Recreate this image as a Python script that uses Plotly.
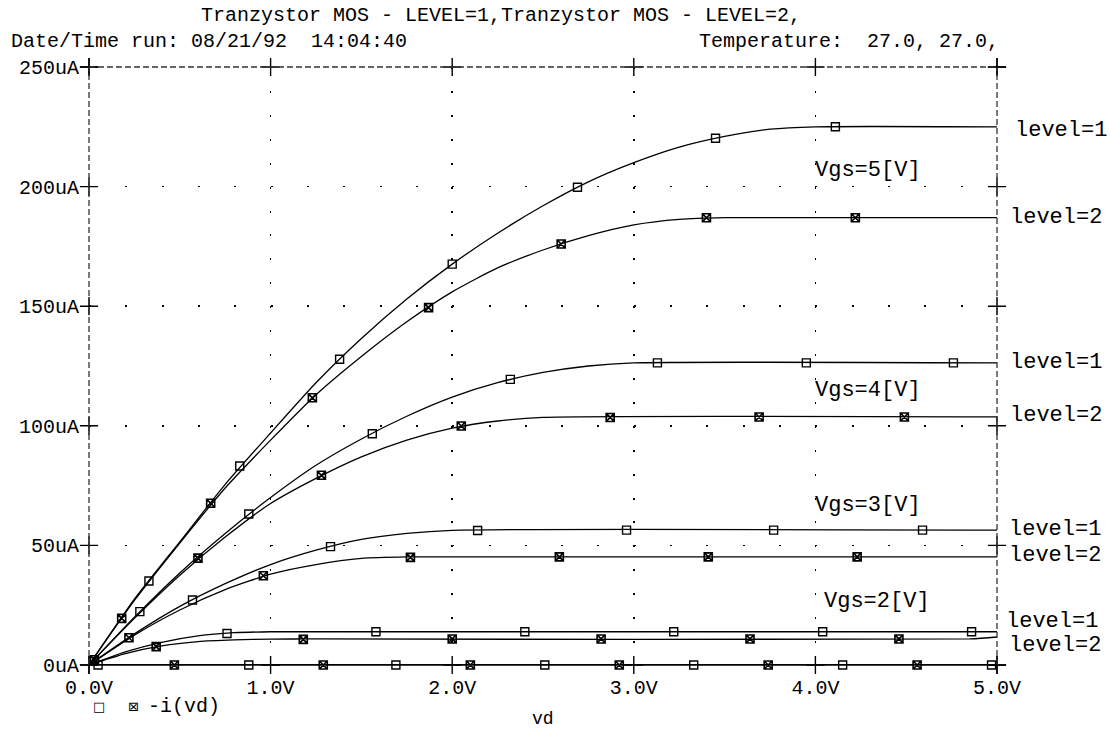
import plotly.graph_objects as go

# ---------------- data ----------------
# drain voltage vd [V], drain current -i(vd) [uA]
vd_l1_5 = [0, 0.25, 0.5, 0.75, 1.0, 1.25, 1.5, 1.75, 2.0, 2.25, 2.5, 2.75, 3.0, 3.25, 3.5, 3.75, 4.0, 5.0]
id_l1_5 = [0, 27.5, 51.5, 75.5, 97, 118, 136.5, 153, 167.6, 180.5, 192, 202, 210, 216.5, 221, 224, 225, 225]
vd_l2_5 = [0, 0.25, 0.5, 0.75, 1.0, 1.25, 1.5, 1.75, 2.0, 2.25, 2.5, 2.75, 3.0, 3.25, 3.5, 5.0]
id_l2_5 = [0, 27, 51, 74, 94, 113, 129, 143.5, 156, 166, 173.5, 179.5, 184, 186.3, 187, 187]

vd_l1_4 = [0, 0.25, 0.5, 0.75, 1.0, 1.25, 1.5, 1.75, 2.0, 2.25, 2.5, 2.75, 3.0, 5.0]
id_l1_4 = [0, 20, 38.5, 55, 70, 83.5, 94.5, 104, 112, 118, 122.3, 125, 126.3, 126.3]
vd_l2_4 = [0, 0.25, 0.5, 0.75, 1.0, 1.25, 1.5, 1.75, 2.0, 2.25, 2.5, 5.0]
id_l2_4 = [0, 19.5, 37.5, 53.5, 67.5, 78, 87, 94, 99, 102, 103.5, 103.7]

vd_l1_3 = [0, 0.25, 0.5, 0.75, 1.0, 1.25, 1.5, 1.75, 2.0, 5.0]
id_l1_3 = [0, 13, 24.5, 34, 42, 48, 52.5, 55, 56.3, 56.4]
vd_l2_3 = [0, 0.25, 0.5, 0.75, 1.0, 1.25, 1.5, 1.75, 5.0]
id_l2_3 = [0, 12.5, 23, 31.5, 38, 42, 44.6, 45.2, 45.2]

vd_l1_2 = [0, 0.2, 0.4, 0.6, 0.8, 1.0, 5.0]
id_l1_2 = [0, 5.5, 9.5, 12.2, 13.5, 13.9, 13.9]
vd_l2_2 = [0, 0.2, 0.4, 0.6, 0.8, 1.0, 1.2, 4.85, 5.0]
id_l2_2 = [0, 4.8, 8.0, 9.8, 10.5, 10.8, 10.9, 10.9, 11.7]

vd_l1_1 = [0, 5.0]
id_l1_1 = [0, 0]
vd_l2_1 = [0, 5.0]
id_l2_1 = [0, 0]

# marker positions (level=1 open squares, level=2 crossed squares)
mk_vd_l1_5 = [0.33, 0.83, 1.38, 2.0, 2.69, 3.45, 4.11]
mk_id_l1_5 = [35.1, 83.2, 127.8, 167.6, 199.7, 220.2, 225]
mk_vd_l2_5 = [0.03, 0.18, 0.67, 1.23, 1.87, 2.6, 3.4, 4.22]
mk_id_l2_5 = [2.2, 19.5, 67.6, 111.7, 149.4, 176, 187, 187]

mk_vd_l1_4 = [0.28, 0.88, 1.56, 2.32, 3.13, 3.95, 4.76]
mk_id_l1_4 = [22.3, 63.1, 96.7, 119.4, 126.3, 126.3, 126.3]
mk_vd_l2_4 = [0.6, 1.28, 2.05, 2.87, 3.69, 4.49]
mk_id_l2_4 = [44.7, 79.3, 99.9, 103.5, 103.7, 103.7]

mk_vd_l1_3 = [0.57, 1.33, 2.14, 2.96, 3.77, 4.59]
mk_id_l1_3 = [27.2, 49.5, 56.2, 56.4, 56.4, 56.4]
mk_vd_l2_3 = [0.22, 0.96, 1.77, 2.59, 3.41, 4.23]
mk_id_l2_3 = [11.4, 37.3, 45.0, 45.2, 45.2, 45.2]

mk_vd_l1_2 = [0.76, 1.58, 2.4, 3.22, 4.04, 4.86]
mk_id_l1_2 = [13.2, 13.9, 13.9, 13.9, 13.9, 13.9]
mk_vd_l2_2 = [0.37, 1.18, 2.0, 2.82, 3.64, 4.46]
mk_id_l2_2 = [7.7, 10.7, 10.9, 10.9, 10.9, 10.9]

mk_vd_l1_1 = [0.05, 0.88, 1.69, 2.51, 3.33, 4.15, 4.97]
mk_id_l1_1 = [0, 0, 0, 0, 0, 0, 0]
mk_vd_l2_1 = [0.47, 1.29, 2.1, 2.92, 3.74, 4.56]
mk_id_l2_1 = [0, 0, 0, 0, 0, 0]

x_ticks = [0, 1, 2, 3, 4, 5]
x_ticktext = ["0.0V", "1.0V", "2.0V", "3.0V", "4.0V", "5.0V"]
y_ticks = [0, 50, 100, 150, 200, 250]
y_ticktext = ["0uA", "50uA", "100uA", "150uA", "200uA", "250uA"]

title_line1 = "Tranzystor MOS - LEVEL=1,Tranzystor MOS - LEVEL=2,"
title_date = "Date/Time run: 08/21/92  14:04:40"
title_temp = "Temperature:  27.0, 27.0,"
x_title = "vd"
legend_text = "-i(vd)"
vgs_labels = ["Vgs=5[V]", "Vgs=4[V]", "Vgs=3[V]", "Vgs=2[V]"]
level_labels = ["level=1", "level=2", "level=1", "level=2", "level=1", "level=2", "level=1", "level=2"]

# ---------------- layout geometry ----------------
W, H = 1111, 733
ML, MR, MT, MB = 89, 114, 67, 68
PW, PH = W - ML - MR, H - MT - MB


def px(x):
    return (x - ML) / PW


def py(y):
    return (H - MB - y) / PH


MONO = "Liberation Mono"
INK = "black"

fig = go.Figure()

curves = [
    (vd_l1_5, id_l1_5), (vd_l2_5, id_l2_5),
    (vd_l1_4, id_l1_4), (vd_l2_4, id_l2_4),
    (vd_l1_3, id_l1_3), (vd_l2_3, id_l2_3),
    (vd_l1_2, id_l1_2), (vd_l2_2, id_l2_2),
    (vd_l1_1, id_l1_1), (vd_l2_1, id_l2_1),
]
for xs, ys in curves:
    fig.add_trace(go.Scatter(x=xs, y=ys, mode="lines",
                             line=dict(color=INK, width=1.3, shape="spline", smoothing=0.6),
                             showlegend=False, hoverinfo="skip", cliponaxis=False))

open_sets = [(mk_vd_l1_5, mk_id_l1_5), (mk_vd_l1_4, mk_id_l1_4), (mk_vd_l1_3, mk_id_l1_3),
             (mk_vd_l1_2, mk_id_l1_2), (mk_vd_l1_1, mk_id_l1_1)]
cross_sets = [(mk_vd_l2_5, mk_id_l2_5), (mk_vd_l2_4, mk_id_l2_4), (mk_vd_l2_3, mk_id_l2_3),
              (mk_vd_l2_2, mk_id_l2_2), (mk_vd_l2_1, mk_id_l2_1)]
for xs, ys in open_sets:
    fig.add_trace(go.Scatter(x=xs, y=ys, mode="markers",
                             marker=dict(symbol="square-open", size=8, color=INK, line=dict(width=1.4)),
                             showlegend=False, hoverinfo="skip", cliponaxis=False))
for xs, ys in cross_sets:
    fig.add_trace(go.Scatter(x=xs, y=ys, mode="markers",
                             marker=dict(symbol="square-x-open", size=8, color=INK, line=dict(width=1.6)),
                             showlegend=False, hoverinfo="skip", cliponaxis=False))

# "+" tick marks on the frame
cx, cy = [], []
for xt in x_ticks:
    cx += [xt, xt]
    cy += [y_ticks[-1], y_ticks[0]]
for yt in y_ticks:
    cx += [x_ticks[0], x_ticks[-1]]
    cy += [yt, yt]
fig.add_trace(go.Scatter(x=cx, y=cy, mode="markers",
                         marker=dict(symbol="cross-thin-open", size=13, color=INK, line=dict(width=1.4, color=INK)),
                         showlegend=False, hoverinfo="skip", cliponaxis=False))

# frame
dash_style = dict(color="#333", width=1.3, dash="6px,3px")
shapes = [
    dict(type="line", xref="paper", yref="paper", x0=0, x1=0, y0=0, y1=1, line=dash_style, layer="above"),
    dict(type="line", xref="paper", yref="paper", x0=1, x1=1, y0=0, y1=1, line=dash_style, layer="above"),
    dict(type="line", xref="paper", yref="paper", x0=0, x1=1, y0=1, y1=1, line=dash_style, layer="above"),
    dict(type="line", xref="paper", yref="paper", x0=0, x1=1, y0=0, y1=0,
         line=dict(color=INK, width=1.3), layer="above"),
]

ann = []


def text(x, y, s, size=20, anchor="left", font=MONO):
    ann.append(dict(x=px(x), y=py(y), xref="paper", yref="paper", text=s, showarrow=False,
                    xanchor=anchor, yanchor="middle", font=dict(family=font, size=size, color=INK)))


text(199, 15, title_line1)
text(9, 42, title_date)
text(697, 42, title_temp)
text(543, 719, x_title, anchor="center", size=18)
text(146, 706, legend_text)
text(99, 706, "\u25a1", size=13, anchor="center", font="DejaVu Sans")
text(133, 706, "\u22a0", size=13, anchor="center", font="DejaVu Sans")

for lab, (lx, ly) in zip(vgs_labels, [(813, 170), (813, 390), (813, 505), (822, 601)]):
    text(lx, ly, lab, size=22)
for lab, (lx, ly) in zip(level_labels, [(1013, 130), (1008, 217), (1008, 362), (1008, 416),
                                        (1007, 529), (1007, 555), (1004, 621), (1007, 645)]):
    text(lx, ly, lab, size=22)

fig.update_layout(
    width=W, height=H,
    margin=dict(l=ML, r=MR, t=MT, b=MB),
    paper_bgcolor="white", plot_bgcolor="white",
    shapes=shapes, annotations=ann,
    showlegend=False,
    xaxis=dict(range=[0, 5], tickvals=x_ticks, ticktext=x_ticktext, showline=False, zeroline=False,
               showgrid=True, gridcolor=INK, gridwidth=1.6, griddash="2px,21.92px",
               ticks="", ticklabelstandoff=8,
               tickfont=dict(family=MONO, size=20, color=INK), fixedrange=True),
    yaxis=dict(range=[0, 250], tickvals=y_ticks, ticktext=y_ticktext, showline=False, zeroline=False,
               showgrid=True, gridcolor=INK, gridwidth=1.6, griddash="2px,34.32px",
               ticks="", ticklabelstandoff=9,
               tickfont=dict(family=MONO, size=20, color=INK), fixedrange=True),
)

fig.write_html("out.html", config={"displayModeBar": False, "staticPlot": True})

# remove the browser's default page margin so the figure sits at the window's top-left corner
with open("out.html", "r", encoding="utf-8") as f:
    html = f.read()
html = html.replace("<head>", "<head><style>html,body{margin:0;padding:0;overflow:hidden;}</style>", 1)
with open("out.html", "w", encoding="utf-8") as f:
    f.write(html)
